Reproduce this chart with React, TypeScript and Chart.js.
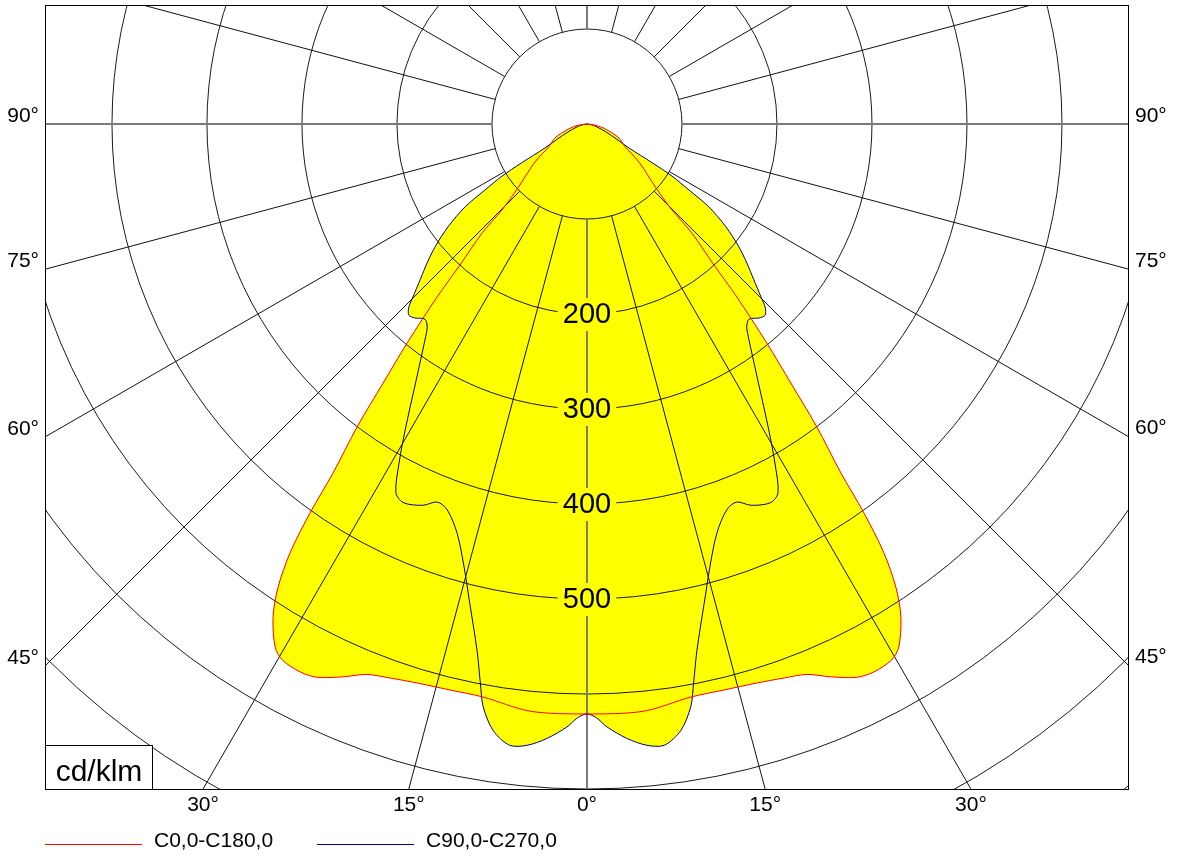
import React, { useEffect, useRef } from 'react';
import { Chart, registerables } from 'chart.js';

Chart.register(...registerables);

// ---- Data (gamma angle in degrees from nadir, intensity in cd/klm) ----
const gammaC0 = [0, 5.5, 10.3, 13.6, 16.9, 19.6, 21.8, 23.8, 26, 27.6, 29.6, 30.8, 32.5, 33.7, 34.7, 35.45, 36.05, 37.2, 38.2, 39.4, 40.9, 42, 43.9, 44.7, 47.2, 53.8, 60, 66.4, 75, 82, 90];
const intensityC0 = [621, 621, 613, 613, 615, 619, 624, 636, 648, 651, 649, 641, 615, 586, 549, 503, 454, 400, 347, 298, 241, 200, 159, 127, 99, 68, 45, 37, 20, 9, 0];

const gammaC90 = [0, 0.9, 1.9, 3.7, 5.5, 7.1, 8.8, 10.1, 10.8, 11.8, 13.9, 15.5, 17.6, 19.9, 21.6, 23.3, 25.9, 27.4, 29, 30.7, 33.5, 36, 36.9, 38.2, 39.7, 41.6, 43, 44.2, 45.2, 47, 49, 51, 53.5, 55.8, 57.1, 58.5, 59.3, 60.3, 63, 67.2, 75, 82, 90];
const intensityC90 = [621, 625, 635, 648, 657, 659, 646, 623, 599, 566, 516, 484, 452, 432, 428, 437, 443, 437, 408, 375, 327, 294, 284, 272, 267, 273, 275, 269, 258, 240, 223, 206, 182, 155, 128, 105, 80, 51, 35, 22, 10, 4, 0];

const seriesLabels = ['C0,0-C180,0', 'C90,0-C270,0'];
const seriesColors = ['#ff0000', '#000080'];
const fillColor = '#ffff00';

const ringValues = [100, 200, 300, 400, 500, 600, 700, 800, 900, 1000];
const ringLabelValues = [200, 300, 400, 500];
const spokeAngles = [0, 15, 30, 45, 60, 75, 90, 105, 120, 135, 150, 165, 180, 195, 210, 225, 240, 255, 270, 285, 300, 315, 330, 345];

const bottomTickAngles = [-30, -15, 0, 15, 30];
const bottomTickLabels = ['30°', '15°', '0°', '15°', '30°'];
const sideTickAngles = [90, 75, 60, 45];
const sideTickLabels = ['90°', '75°', '60°', '45°'];

const unitLabel = 'cd/klm';

// axis ranges (cd/klm)
const X_MIN = -570.5;
const X_MAX = 569.5;
const Y_MIN = -700;
const Y_MAX = 125.3;

const FONT = '"Liberation Sans", Arial, sans-serif';
const DEG = Math.PI / 180;

function toPoints(gammas: number[], values: number[]) {
  const pts: { x: number; y: number }[] = [];
  for (let i = gammas.length - 1; i >= 0; i--) {
    const g = gammas[i] * DEG;
    pts.push({ x: -values[i] * Math.sin(g), y: -values[i] * Math.cos(g) });
  }
  for (let i = 1; i < gammas.length; i++) {
    const g = gammas[i] * DEG;
    pts.push({ x: values[i] * Math.sin(g), y: -values[i] * Math.cos(g) });
  }
  return pts;
}

const polarPlugin = {
  id: 'polarGrid',
  beforeDatasetsDraw(chart: any) {
    const { ctx, chartArea: a } = chart;
    const xs = chart.scales.x;
    const ys = chart.scales.y;
    const cx = xs.getPixelForValue(0);
    const cy = ys.getPixelForValue(0);
    const rpx = (v: number) => xs.getPixelForValue(v) - cx;

    const fillShapes = () => {
      chart.data.datasets.forEach((_ds: any, i: number) => {
        const meta = chart.getDatasetMeta(i);
        const line = meta.dataset;
        if (!line) return;
        if (line.updateControlPoints) line.updateControlPoints(a, 'x');
        ctx.beginPath();
        line.path(ctx);
        ctx.closePath();
        ctx.fillStyle = fillColor;
        ctx.fill();
      });
    };

    ctx.save();
    ctx.beginPath();
    ctx.rect(a.left, a.top, a.right - a.left, a.bottom - a.top);
    ctx.clip();

    fillShapes();

    // rings
    ctx.strokeStyle = '#1a1a1a';
    ctx.lineWidth = 1;
    for (const v of ringValues) {
      ctx.beginPath();
      ctx.arc(cx, cy, rpx(v), 0, Math.PI * 2);
      ctx.stroke();
    }

    // spokes
    const r0 = rpx(ringValues[0]);
    const r1 = rpx(3000);
    for (const g of spokeAngles) {
      const major = g % 90 === 0;
      const t = g * DEG;
      const dx = Math.sin(t);
      const dy = Math.cos(t);
      ctx.beginPath();
      ctx.moveTo(cx + dx * r0, cy + dy * r0);
      ctx.lineTo(cx + dx * r1, cy + dy * r1);
      ctx.strokeStyle = major ? '#7a7a7a' : '#111';
      ctx.lineWidth = major ? 2 : 1;
      ctx.stroke();
    }

    // ring value labels
    ctx.font = `29px ${FONT}`;
    for (const v of ringLabelValues) {
      const text = String(v);
      const w = ctx.measureText(text).width;
      const y = cy + rpx(v);
      const bx = cx - w / 2 - 5;
      const bw = w + 10;
      const by = y - 16;
      const bh = 33;
      ctx.save();
      ctx.beginPath();
      ctx.rect(bx, by, bw, bh);
      ctx.clip();
      ctx.fillStyle = '#ffffff';
      ctx.fillRect(bx, by, bw, bh);
      fillShapes();
      ctx.restore();
      ctx.fillStyle = '#000';
      ctx.textAlign = 'center';
      ctx.textBaseline = 'middle';
      ctx.font = `29px ${FONT}`;
      ctx.fillText(text, cx, y + 1);
    }
    ctx.restore();
  },
  afterDatasetsDraw(chart: any) {
    const { ctx, chartArea: a } = chart;
    ctx.save();
    ctx.strokeStyle = '#000';
    ctx.lineWidth = 1;
    ctx.strokeRect(a.left + 0.5, a.top + 0.5, a.right - a.left, a.bottom - a.top);

    // unit box
    const bw = 107;
    const bh = 44;
    const bx = a.left;
    const by = a.bottom - bh;
    ctx.fillStyle = '#fff';
    ctx.fillRect(bx + 0.5, by + 0.5, bw, bh);
    ctx.strokeRect(bx + 0.5, by + 0.5, bw, bh);
    ctx.fillStyle = '#000';
    ctx.font = `30px ${FONT}`;
    ctx.textAlign = 'center';
    ctx.textBaseline = 'alphabetic';
    ctx.fillText(unitLabel, bx + bw / 2 + 0.5, by + 36);
    ctx.restore();
  },
  afterDraw(chart: any) {
    const { ctx, chartArea: a } = chart;
    ctx.save();
    ctx.font = `21px ${FONT}`;
    ctx.textAlign = 'left';
    ctx.textBaseline = 'middle';
    let x = a.left;
    const lineY = 844.5;
    const textY = 841;
    chart.data.datasets.forEach((ds: any) => {
      ctx.strokeStyle = ds.borderColor;
      ctx.lineWidth = 1;
      ctx.beginPath();
      ctx.moveTo(x, lineY);
      ctx.lineTo(x + 97, lineY);
      ctx.stroke();
      ctx.fillStyle = '#000';
      ctx.fillText(ds.label, x + 109, textY);
      const w = ctx.measureText(ds.label).width;
      x = x + 109 + w + 44;
    });
    ctx.restore();
  },
};

export default function App() {
  const canvasRef = useRef<HTMLCanvasElement | null>(null);

  useEffect(() => {
    const canvas = canvasRef.current;
    if (!canvas) return;
    Chart.defaults.font.family = FONT;
    Chart.defaults.color = '#000';

    const tickFont = { size: 21, family: FONT };
    const noGrid = { display: false, drawTicks: false, tickLength: 0 };
    const zeroPad = (scale: any) => {
      scale.paddingTop = 0;
      scale.paddingBottom = 0;
      scale.paddingLeft = 0;
      scale.paddingRight = 0;
    };

    const chart = new Chart(canvas, {
      type: 'scatter',
      data: {
        datasets: [
          {
            label: seriesLabels[0],
            data: toPoints(gammaC0, intensityC0),
            showLine: true,
            borderColor: seriesColors[0],
            backgroundColor: seriesColors[0],
            borderWidth: 1,
            pointRadius: 0,
            tension: 0.3,
            fill: false,
            xAxisID: 'x',
            yAxisID: 'y',
          },
          {
            label: seriesLabels[1],
            data: toPoints(gammaC90, intensityC90),
            showLine: true,
            borderColor: seriesColors[1],
            backgroundColor: seriesColors[1],
            borderWidth: 1,
            pointRadius: 0,
            tension: 0.3,
            fill: false,
            xAxisID: 'x',
            yAxisID: 'y',
          },
        ],
      },
      options: {
        animation: false,
        responsive: false,
        events: [],
        layout: { autoPadding: false, padding: { top: 5, left: 0, right: 0, bottom: 0 } },
        plugins: {
          legend: { display: false },
          tooltip: { enabled: false },
        },
        scales: {
          x: {
            type: 'linear',
            position: 'bottom',
            min: X_MIN,
            max: X_MAX,
            bounds: 'data',
            grid: noGrid,
            border: { display: false },
            afterBuildTicks: (scale: any) => {
              scale.ticks = bottomTickAngles.map((g) => ({ value: -Y_MIN * Math.tan(g * DEG) }));
            },
            afterFit: (scale: any) => {
              scale.height = 68;
              zeroPad(scale);
            },
            ticks: {
              autoSkip: false,
              maxRotation: 0,
              minRotation: 0,
              padding: 4,
              font: tickFont,
              color: '#000',
              callback: (_v: any, i: number) => bottomTickLabels[i],
            },
          },
          y: {
            type: 'linear',
            position: 'left',
            min: Y_MIN,
            max: Y_MAX,
            bounds: 'data',
            grid: noGrid,
            border: { display: false },
            afterBuildTicks: (scale: any) => {
              scale.ticks = sideTickAngles.map((g) => ({
                value: g === 90 ? 0 : X_MIN / Math.tan(g * DEG),
              }));
            },
            afterFit: (scale: any) => {
              scale.width = 45;
              zeroPad(scale);
            },
            ticks: {
              autoSkip: false,
              padding: 6,
              labelOffset: -8,
              font: tickFont,
              color: '#000',
              callback: (_v: any, i: number) => sideTickLabels[i],
            },
          },
          y2: {
            type: 'linear',
            position: 'right',
            min: Y_MIN,
            max: Y_MAX,
            bounds: 'data',
            grid: noGrid,
            border: { display: false },
            afterBuildTicks: (scale: any) => {
              scale.ticks = sideTickAngles.map((g) => ({
                value: g === 90 ? 0 : -X_MAX / Math.tan(g * DEG),
              }));
            },
            afterFit: (scale: any) => {
              scale.width = 52;
              zeroPad(scale);
            },
            ticks: {
              autoSkip: false,
              padding: 7,
              labelOffset: -8,
              font: tickFont,
              color: '#000',
              callback: (_v: any, i: number) => sideTickLabels[i],
            },
          },
        },
      } as any,
      plugins: [polarPlugin as any],
    });

    return () => {
      chart.destroy();
    };
  }, []);

  return (
    <div style={{ position: 'absolute', left: 0, top: 0, width: 1180, height: 857, background: '#fff' }}>
      <canvas ref={canvasRef} width={1180} height={857} style={{ display: 'block' }} />
    </div>
  );
}
